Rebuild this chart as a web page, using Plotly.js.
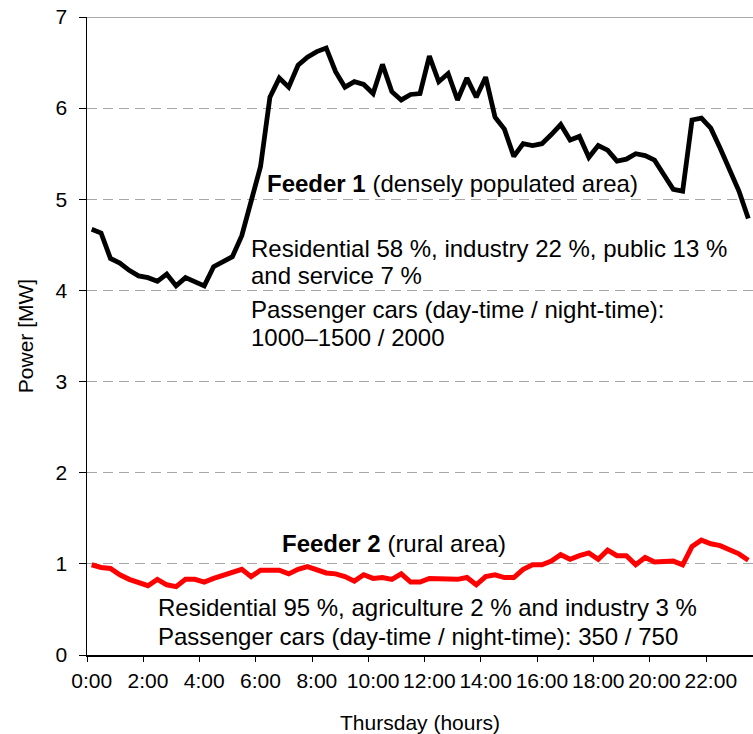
<!DOCTYPE html>
<html>
<head>
<meta charset="utf-8">
<script src="https://cdn.plot.ly/plotly-3.0.1.min.js"></script>
<style>html,body{margin:0;padding:0;background:#fff;}#chart{width:753px;height:734px;}</style>
</head>
<body>
<div id="chart"></div>
<script>
var times = ["0:00","0:20","0:40","1:00","1:20","1:40","2:00","2:20","2:40","3:00","3:20","3:40",
  "4:00","4:20","4:40","5:00","5:20","5:40","6:00","6:20","6:40","7:00","7:20","7:40",
  "8:00","8:20","8:40","9:00","9:20","9:40","10:00","10:20","10:40","11:00","11:20","11:40",
  "12:00","12:20","12:40","13:00","13:20","13:40","14:00","14:20","14:40","15:00","15:20","15:40",
  "16:00","16:20","16:40","17:00","17:20","17:40","18:00","18:20","18:40","19:00","19:20","19:40",
  "20:00","20:20","20:40","21:00","21:20","21:40","22:00","22:20","22:40","23:00","23:20"];

var feeder1 = [4.67,4.63,4.35,4.30,4.22,4.16,4.14,4.10,4.18,4.05,4.14,4.09,
  4.05,4.26,4.32,4.37,4.60,4.97,5.36,6.12,6.33,6.23,6.47,6.56,
  6.62,6.66,6.40,6.23,6.29,6.26,6.16,6.48,6.18,6.09,6.15,6.16,
  6.57,6.29,6.38,6.09,6.33,6.12,6.34,5.90,5.77,5.47,5.61,5.59,
  5.61,5.71,5.82,5.65,5.69,5.46,5.59,5.54,5.42,5.44,5.50,5.48,
  5.43,5.27,5.11,5.09,5.87,5.89,5.78,5.56,5.32,5.09,4.79];

var feeder2 = [0.99,0.96,0.95,0.88,0.83,0.79,0.76,0.83,0.77,0.75,0.83,0.83,
  0.80,0.84,0.87,0.90,0.94,0.86,0.93,0.93,0.93,0.89,0.94,0.97,
  0.94,0.90,0.89,0.86,0.81,0.88,0.84,0.85,0.83,0.89,0.80,0.80,
  0.84,0.84,0.83,0.83,0.85,0.77,0.86,0.88,0.85,0.85,0.94,0.99,
  0.99,1.03,1.10,1.05,1.09,1.12,1.05,1.15,1.09,1.09,0.99,1.07,
  1.02,1.03,1.03,0.99,1.19,1.26,1.22,1.20,1.16,1.11,1.04];

var F = "Liberation Sans, Arial, sans-serif";

var traces = [
  {x: times, y: feeder1, type: "scatter", mode: "lines", name: "Feeder 1",
   line: {color: "#000000", width: 4.8}},
  {x: times, y: feeder2, type: "scatter", mode: "lines", name: "Feeder 2",
   line: {color: "#ff0000", width: 5}}
];

function note(px, val, txt) {
  return {xref: "paper", yref: "y", x: px, y: val, xanchor: "left", yanchor: "middle",
    showarrow: false, align: "left", font: {family: F, size: 24, color: "#000"}, text: txt};
}

var layout = {
  width: 753, height: 734, autosize: false,
  margin: {l: 86.5, r: 0, t: 17, b: 79, pad: 0},
  paper_bgcolor: "#ffffff", plot_bgcolor: "#ffffff",
  showlegend: false,
  font: {family: F, size: 21, color: "#000"},
  xaxis: {
    type: "category", range: [-0.5, 70.5],
    tickmode: "linear", tick0: 0, dtick: 6, tickson: "boundaries", tickangle: 0,
    ticks: "outside", ticklen: 5, tickwidth: 1, tickcolor: "#000",
    showline: true, linecolor: "#000", linewidth: 1.5,
    showgrid: false, zeroline: false,
    tickfont: {family: F, size: 21, color: "#000"},
    ticklabelstandoff: 6,
    title: {text: "Thursday (hours)", font: {family: F, size: 21, color: "#000"}, standoff: 24}
  },
  yaxis: {
    range: [0, 7], tickmode: "linear", tick0: 0, dtick: 1,
    ticks: "outside", ticklen: 7, tickwidth: 1, tickcolor: "#000",
    showline: true, linecolor: "#000", linewidth: 1.5,
    showgrid: true, gridcolor: "#a6a6a6", gridwidth: 1, griddash: "10px,6px",
    zeroline: false,
    tickfont: {family: F, size: 21, color: "#000"},
    ticklabelstandoff: 7,
    title: {text: "Power [MW]", font: {family: F, size: 21, color: "#000"}, standoff: 16}
  },
  shapes: [
    {type: "line", xref: "paper", yref: "y", x0: 0, x1: 1, y0: 7, y1: 7,
     line: {color: "#8c8c8c", width: 1.5}}
  ],
  annotations: [
    note(0.2678, 5.168, "<b>Feeder 1</b> (densely populated area)"),
    note(0.2438, 4.455, "Residential 58 %, industry 22 %, public 13 %"),
    note(0.2438, 4.169, "and service 7 %"),
    note(0.2438, 3.796, "Passenger cars (day-time / night-time):"),
    note(0.2438, 3.489, "1000–1500 / 2000"),
    note(0.2903, 1.218, "<b>Feeder 2</b> (rural area)"),
    note(0.1043, 0.516, "Residential 95 %, agriculture 2 % and industry 3 %"),
    note(0.1043, 0.208, "Passenger cars (day-time / night-time): 350 / 750")
  ]
};

Plotly.newPlot("chart", traces, layout, {displayModeBar: false, staticPlot: true});
</script>
</body>
</html>
